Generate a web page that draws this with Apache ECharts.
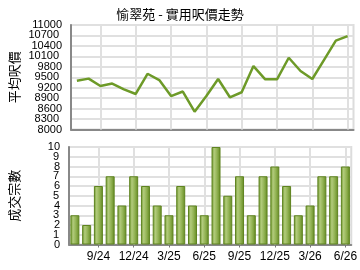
<!DOCTYPE html>
<html><head><meta charset="utf-8">
<script src="https://cdn.jsdelivr.net/npm/echarts@6/dist/echarts.min.js"></script>
<style>html,body{margin:0;padding:0;background:#fff}#c{width:360px;height:270px}</style>
</head><body><div id="c"></div>
<script>
const title = '愉翠苑 - 實用呎價走勢';
const months = ['7/24','8/24','9/24','10/24','11/24','12/24','1/25','2/25','3/25','4/25','5/25','6/25','7/25','8/25','9/25','10/25','11/25','12/25','1/26','2/26','3/26','4/26','5/26','6/26'];
const shownLabels = ['9/24','12/24','3/25','6/25','9/25','12/25','3/26','6/26'];
const avgPrice = [9400,9460,9250,9320,9150,9020,9600,9420,8960,9090,8510,8960,9450,8925,9070,9820,9440,9440,10060,9680,9450,10000,10550,10680];
const deals = [3,2,6,7,4,7,6,4,3,6,4,3,10,5,7,3,7,8,6,3,4,7,7,8];
const priceName = '平均呎價';
const dealName = '成交宗數';
// axis ranges / tick steps
const priceMin = 8000, priceMax = 11000, priceStep = 300;
const dealMin = 0, dealMax = 10, dealStep = 1;

const chart = echarts.init(document.getElementById('c'), null, {renderer:'canvas'});
const L = 68, R = 6.5;
const topT = 25, topH = 104.5, botT = 147, botH = 97.5;
const topPx = topH / ((priceMax - priceMin) / priceStep);
const botPx = botH / ((dealMax - dealMin) / dealStep);
const gridCommon = {left:L, right:R, show:true, borderColor:'#dcdcdc', borderWidth:2, backgroundColor:'transparent'};
const labelShown = (i, v) => shownLabels.indexOf(v) >= 0;
const vLines = {
  silent:true, symbol:'none', z:1,
  label:{show:false},
  lineStyle:{color:'#e0e0e0', width:2, type:'solid'},
  emphasis:{disabled:true},
  data: shownLabels.map(m => ({xAxis:m}))
};
const cjk = '"Noto Sans CJK TC", sans-serif';
const num = '"Liberation Sans", Arial, sans-serif';
const lblStyle = {color:'#000', fontSize:11, fontFamily:num, margin:9, formatter:v => String(v)};
function labelAxis(grid, min, max, step, hideEnds) {
  return {type:'value', gridIndex:grid, position:'left', min:min, max:max, interval:step,
    axisLine:{show:false}, axisTick:{show:false}, splitLine:{show:false},
    axisLabel:Object.assign({showMinLabel:!hideEnds, showMaxLabel:!hideEnds}, lblStyle)};
}
chart.setOption({
  animation:false,
  title:{text:title, left:'center', top:3, textStyle:{fontSize:13, fontWeight:'normal', color:'#000', fontFamily:cjk}},
  grid:[
    Object.assign({top:topT, height:topH}, gridCommon),
    Object.assign({top:botT, height:botH}, gridCommon),
    {left:L, right:R, top:topT - topPx, height:topH + 2*topPx, show:false},
    {left:L, right:R, top:botT - botPx, height:botH + 2*botPx, show:false}
  ],
  xAxis:[
    {type:'category', gridIndex:0, data:months, boundaryGap:true,
     axisLine:{lineStyle:{color:'#888', width:2}}, axisTick:{show:false}, axisLabel:{show:false}, splitLine:{show:false}},
    {type:'category', gridIndex:1, data:months, boundaryGap:true,
     axisLine:{lineStyle:{color:'#888', width:2}},
     axisTick:{show:true, alignWithLabel:true, interval:labelShown, length:3, lineStyle:{color:'#777'}},
     axisLabel:{interval:labelShown, color:'#000', fontSize:12, fontFamily:num, margin:6},
     splitLine:{show:false}},
    {type:'category', gridIndex:2, data:months, show:false},
    {type:'category', gridIndex:3, data:months, show:false}
  ],
  yAxis:[
    {type:'value', gridIndex:0, min:priceMin, max:priceMax, interval:priceStep,
     name:priceName, nameLocation:'middle', nameRotate:90, nameGap:50,
     nameTextStyle:{fontSize:13, color:'#000', fontFamily:cjk},
     axisLine:{show:true, lineStyle:{color:'#888', width:2}}, axisTick:{show:false},
     axisLabel:{show:false},
     splitLine:{lineStyle:{color:'#e0e0e0', width:2}}},
    {type:'value', gridIndex:1, min:dealMin, max:dealMax, interval:dealStep,
     name:dealName, nameLocation:'middle', nameRotate:90, nameGap:48,
     nameTextStyle:{fontSize:13, color:'#000', fontFamily:cjk},
     axisLine:{show:true, lineStyle:{color:'#888', width:2}}, axisTick:{show:false},
     axisLabel:{show:false},
     splitLine:{lineStyle:{color:'#e0e0e0', width:2}}},
    labelAxis(0, priceMin, priceMax, 2*priceStep, false),
    labelAxis(1, dealMin, dealMax, 2*dealStep, false),
    labelAxis(2, priceMin - priceStep, priceMax + priceStep, 2*priceStep, true),
    labelAxis(3, dealMin - dealStep, dealMax + dealStep, 2*dealStep, true)
  ],
  series:[
    {type:'line', xAxisIndex:0, yAxisIndex:0, data:avgPrice, showSymbol:false, symbol:'none',
     lineStyle:{color:'#6d9a28', width:2.5}, z:3, markLine:vLines},
    {type:'bar', xAxisIndex:1, yAxisIndex:1, data:deals, barWidth:9, z:3,
     itemStyle:{
       color:new echarts.graphic.LinearGradient(0,0,1,0,[
         {offset:0, color:'#6a9428'},
         {offset:0.3, color:'#b2cb7c'},
         {offset:0.6, color:'#94b456'},
         {offset:1, color:'#62891f'}]),
       borderColor:'#5f8420', borderWidth:1},
     markLine:vLines}
  ]
});
</script></body></html>
